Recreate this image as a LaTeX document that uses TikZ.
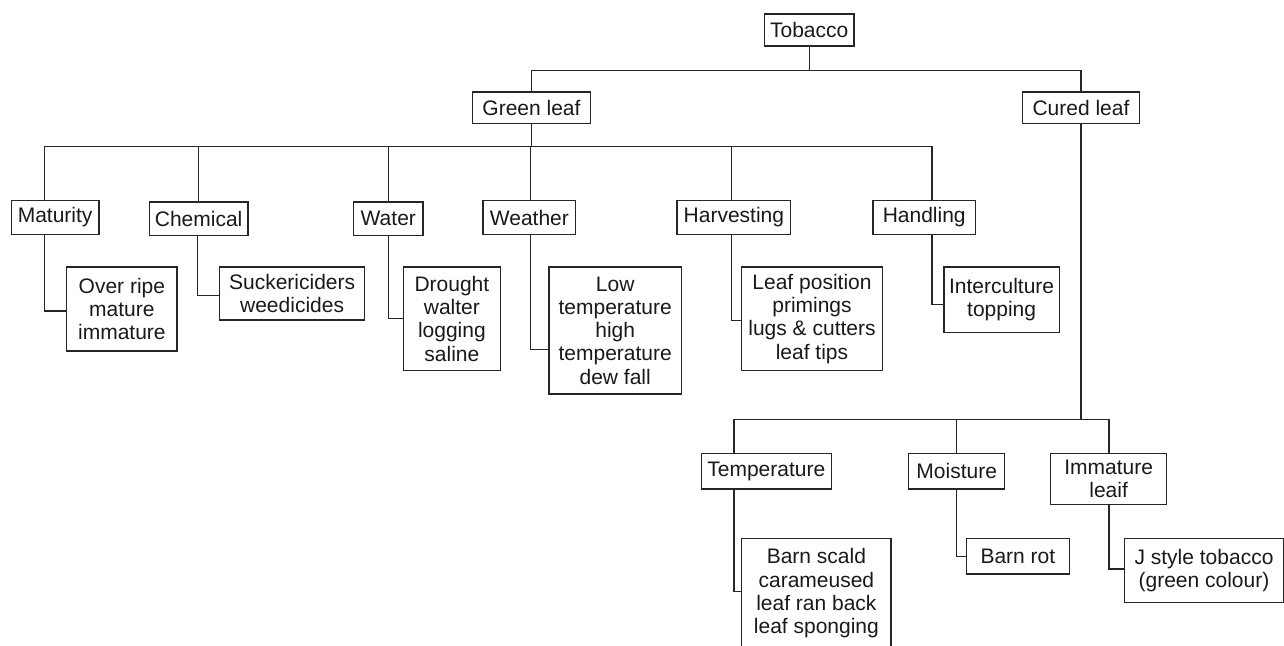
\documentclass[tikz,border=0pt]{standalone}
\usepackage{fontspec}
\setmainfont{Liberation Sans}
\usepackage{tikz}
\usetikzlibrary{positioning}

\begin{document}
\begin{tikzpicture}[
    x=1pt, y=-1pt,
    box/.style={rectangle, draw=black!85, line width=1.2pt, align=center, inner sep=1pt, text=black!90, font=\fontsize{21}{23.3}\selectfont},
    link/.style={draw=black!85, line width=1.2pt}
]
\useasboundingbox (0,0) rectangle (1284,645);

% Top levels
\node[box, minimum width=89.6, minimum height=32] (tobacco) at (809.2,30) {Tobacco};
\node[box, minimum width=117.8, minimum height=31.3] (green) at (531.5,107.7) {Green leaf};
\node[box, minimum width=117.5, minimum height=31.3] (cured) at (1081,107.7) {Cured leaf};

% Green leaf factors
\node[box, minimum width=87.9, minimum height=33.6] (maturity) at (55.1,217.5) {Maturity};
\node[box, minimum width=98.6, minimum height=33.7] (chemical) at (198.6,218.8) {Chemical};
\node[box, minimum width=69.3, minimum height=33.7] (water) at (388.3,218.8) {Water};
\node[box, minimum width=92.9, minimum height=33.6] (weather) at (529.4,217.5) {Weather};
\node[box, minimum width=113.7, minimum height=33.6] (harvest) at (733.9,217.5) {Harvesting};
\node[box, minimum width=102.6, minimum height=33.6] (handling) at (924.2,217.5) {Handling};

% Green leaf details
\node[box, minimum width=110.3, minimum height=84] (ripe) at (121.9,309) {Over ripe\\mature\\immature};
\node[box, minimum width=144.7, minimum height=53] (sucker) at (292.1,293.5) {Suckericiders\\weedicides};
\node[box, minimum width=97, minimum height=103.7] (drought) at (451.9,318.8) {Drought\\walter\\logging\\saline};
\node[box, minimum width=132.6, minimum height=127] (lowtemp) at (615.2,330.5) {Low\\temperature\\high\\temperature\\dew fall};
\node[box, minimum width=140.5, minimum height=103.7] (leafpos) at (812,318.8) {Leaf position\\primings\\lugs \& cutters\\leaf tips};
\node[box, minimum width=115.4, minimum height=65.3] (intercult) at (1001.6,299.7) {Interculture\\topping};

% Cured leaf factors
\node[box, minimum width=130.2, minimum height=35.3] (temp) at (766.3,471.3) {Temperature};
\node[box, minimum width=96.1, minimum height=35.3] (moisture) at (956.7,471.3) {Moisture};
\node[box, minimum width=115.8, minimum height=51] (immature) at (1108.6,479.2) {Immature\\leaif};

% Cured leaf details
\node[box, minimum width=149.1, minimum height=109.4] (scald) at (816.4,593.4) {Barn scald\\carameused\\leaf ran back\\leaf sponging};
\node[box, minimum width=102.7, minimum height=35.3] (barnrot) at (1017.9,556.3) {Barn rot};
\node[box, minimum width=158.9, minimum height=63.6] (jstyle) at (1204,570.5) {J style tobacco\\(green colour)};

% Tree links
\draw[link] (tobacco.south) -- ++(0,24) -| (green.north);
\draw[link] (tobacco.south) -- ++(0,24) -| (cured.north);

\draw[link] (green.south) -- ++(0,22.4) -| ([xshift=-10.3]maturity.north);
\draw[link] (green.south) -- ++(0,22.4) -| (chemical.north);
\draw[link] (green.south) -- ++(0,22.4) -| (water.north);
\draw[link] (green.south) -- ++(0,22.4) -| ([xshift=0.9]weather.north);
\draw[link] (green.south) -- ++(0,22.4) -| ([xshift=-2.3]harvest.north);
\draw[link] (green.south) -- ++(0,22.4) -| ([xshift=7.8]handling.north);

\draw[link] ([xshift=-10.3]maturity.south) |- ([yshift=-2]ripe.west);
\draw[link] ([xshift=-1.3]chemical.south) |- ([yshift=-1.8]sucker.west);
\draw[link] (water.south) |- (drought.west);
\draw[link] ([xshift=0.9]weather.south) |- ([yshift=-18.8]lowtemp.west);
\draw[link] ([xshift=-2.3]harvest.south) |- ([yshift=-1.9]leafpos.west);
\draw[link] ([xshift=7.8]handling.south) |- ([yshift=-4.6]intercult.west);

\draw[link] (cured.south) -- ++(0,295.6) -| ([xshift=-32.3]temp.north);
\draw[link] (cured.south) -- ++(0,295.6) -| (moisture.north);
\draw[link] (cured.south) -- ++(0,295.6) -| ([xshift=0.4]immature.north);

\draw[link] ([xshift=-32.3]temp.south) |- ([yshift=1.7]scald.west);
\draw[link] (moisture.south) |- (barnrot.west);
\draw[link] ([xshift=0.4]immature.south) |- ([yshift=1.5]jstyle.west);

\end{tikzpicture}
\end{document}
